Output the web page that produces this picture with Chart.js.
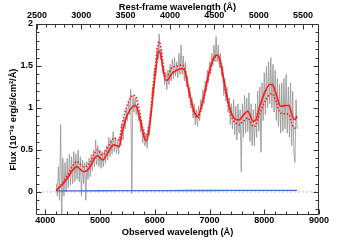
<!DOCTYPE html>
<html><head><meta charset="utf-8">
<script src="https://cdn.jsdelivr.net/npm/chart.js@4"></script>
<style>html,body{margin:0;padding:0;background:#fff}</style>
</head><body>
<canvas id="c" width="355" height="240"></canvas>
<script>
// ---- tick labels ----
const obsTicks = [4000,5000,6000,7000,8000,9000];
const restTicks = [2500,3000,3500,4000,4500,5000,5500];
const fluxTicks = [0,0.5,1,1.5,2];

// ---- observed spectrum (grey) ----
const specWave = [4200,4220,4240,4260,4280,4300,4320,4340,4360,4380,
4400,4420,4440,4460,4480,4500,4520,4540,4560,4580,
4600,4620,4640,4660,4680,4700,4720,4740,4760,4780,
4800,4820,4840,4860,4880,4900,4920,4940,4960,4980,
5000,5020,5040,5060,5080,5100,5120,5140,5160,5180,
5200,5220,5240,5260,5280,5300,5320,5340,5360,5380,
5400,5420,5440,5460,5480,5500,5520,5540,5560,5580,
5600,5620,5640,5660,5680,5700,5720,5740,5760,5780,
5800,5820,5840,5860,5880,5900,5920,5940,5960,5980,
6000,6020,6040,6060,6080,6100,6120,6140,6160,6180,
6200,6220,6240,6260,6280,6300,6320,6340,6360,6380,
6400,6420,6440,6460,6480,6500,6520,6540,6560,6580,
6600,6620,6640,6660,6680,6700,6720,6740,6760,6780,
6800,6820,6840,6860,6880,6900,6920,6940,6960,6980,
7000,7020,7040,7060,7080,7100,7120,7140,7160,7180,
7200,7220,7240,7260,7280,7300,7320,7340,7360,7380,
7400,7420,7440,7460,7480,7500,7520,7540,7560,7580,
7600,7620,7640,7660,7680,7700,7720,7740,7760,7780,
7800,7820,7840,7860,7880,7900,7920,7940,7960,7980,
8000,8020,8040,8060,8080,8100,8120,8140,8160,8180,
8200,8220,8240,8260,8280,8300,8320,8340,8360,8380,
8400,8420,8440,8460,8480,8500,8520,8540,8560,8580,
8600];
const specFlux = [0.10,-0.05,0.30,-0.10,0.80,-0.28,0.40,-0.05,0.35,0.00,
0.40,0.05,0.45,0.08,0.42,0.10,0.48,0.12,0.45,0.15,
0.50,0.12,0.42,-0.05,0.38,0.10,0.35,-0.10,0.36,0.15,
0.40,0.18,0.45,0.25,0.50,0.30,0.62,0.32,0.55,0.30,
0.50,0.28,0.48,0.30,0.50,0.34,0.55,0.38,0.65,0.42,
0.62,0.45,0.72,0.48,0.65,0.46,0.62,0.45,0.66,0.55,
0.80,0.62,0.88,0.75,1.00,0.85,1.08,0.92,1.22,-0.02,
1.15,0.95,1.12,0.92,1.05,0.85,0.95,0.72,0.85,0.58,
0.75,0.55,0.70,0.52,0.78,0.68,0.95,0.90,1.25,1.15,
1.48,1.40,1.72,1.58,1.88,1.58,1.70,1.42,1.50,1.28,
1.42,1.22,1.45,1.28,1.52,1.32,1.58,1.35,1.60,1.38,
1.55,1.36,1.65,1.40,1.75,1.40,1.62,1.32,1.55,1.25,
1.38,1.12,1.25,1.00,1.12,0.88,1.05,0.80,0.98,0.78,
1.02,0.85,1.10,0.98,1.22,1.05,1.32,1.20,1.45,1.30,
1.55,1.40,1.65,1.50,1.75,1.55,1.85,1.55,1.75,1.48,
1.65,1.38,1.50,1.15,1.35,1.08,1.25,0.95,1.12,0.80,
1.05,0.75,1.10,0.68,1.02,0.62,1.05,0.70,0.98,0.24,
1.05,0.65,1.15,0.70,1.12,0.72,1.18,0.60,1.05,0.55,
0.98,0.55,1.05,0.65,1.20,0.72,1.25,0.47,1.30,0.85,
1.42,0.92,1.50,1.00,1.55,1.05,1.60,1.00,1.52,0.95,
1.45,0.85,1.35,0.78,1.28,0.70,1.30,0.72,1.35,0.75,
1.40,0.70,1.25,0.65,1.30,0.55,1.20,0.50,0.35,1.10,
0.75];

// ---- model fits (red) ----
const modelWave = [4200,4300,4400,4500,4575,4700,4800,4900,4950,5050,
5100,5200,5250,5350,5400,5500,5600,5650,5700,5800,
5850,5900,6000,6080,6200,6250,6300,6400,6500,6550,
6600,6700,6780,6900,7000,7100,7150,7200,7300,7400,
7500,7550,7600,7700,7800,7850,7900,8000,8100,8150,
8200,8300,8400,8450,8500,8550,8600];
const modelFlux = [0.02,0.08,0.16,0.26,0.30,0.24,0.28,0.40,0.43,0.38,
0.42,0.53,0.56,0.54,0.70,0.92,1.02,1.03,0.95,0.66,
0.61,0.75,1.35,1.68,1.33,1.34,1.40,1.45,1.47,1.44,
1.28,1.00,0.90,1.15,1.45,1.62,1.63,1.55,1.20,0.94,
0.86,0.86,0.90,0.96,0.84,0.86,0.98,1.17,1.28,1.28,
1.20,1.02,1.03,1.03,0.93,0.86,0.90];
const altFlux = [0.02,0.09,0.19,0.31,0.36,0.30,0.33,0.46,0.50,0.44,
0.48,0.60,0.64,0.62,0.80,1.04,1.15,1.14,1.02,0.71,
0.66,0.82,1.45,1.79,1.38,1.40,1.47,1.50,1.51,1.47,
1.28,0.97,0.88,1.12,1.42,1.60,1.61,1.52,1.16,0.90,
0.81,0.80,0.83,0.88,0.78,0.80,0.90,1.06,1.16,1.17,
1.10,0.94,0.93,0.92,0.82,0.76,0.78];

// ---- error spectrum (blue) ----
const errWave = [4200,4600,5000,5400,5800,6200,6600,7000,7400,7800,8200,8600];
const errFlux = [0.012,0.013,0.014,0.015,0.016,0.016,0.017,0.017,0.018,0.018,0.018,0.018];

// ---- zero reference ----
const zeroWave = [3800,9100];
const zeroFlux = [0,0];

const pts = (xs, ys) => xs.map((x,i)=>({x, y: ys[i]}));
const FONT = '"Liberation Sans", Arial, Helvetica, sans-serif';
const plain = v => String(v);

const frame = {
  id: 'frame',
  afterDraw(chart) {
    const {ctx, chartArea: a, scales} = chart;
    const L = Math.round(a.left) + 0.5, R = Math.round(a.right) - 0.5;
    const T = Math.round(a.top) + 0.5, B = Math.round(a.bottom) - 0.5;
    ctx.save();
    ctx.strokeStyle = '#333';
    ctx.lineWidth = 1;
    ctx.beginPath();
    ctx.rect(L, T, R - L, B - T);
    ctx.stroke();
    const hTicks = (scale, majors, sub, y0, dir) => {
      const step = majors[1] - majors[0];
      for (let v = majors[0] - step; v <= majors[majors.length-1] + step; v += step / sub) {
        if (v < scale.min || v > scale.max) continue;
        const isMaj = Math.abs((v - majors[0]) / step - Math.round((v - majors[0]) / step)) < 1e-6;
        const px = Math.round(scale.getPixelForValue(v)) + 0.5;
        ctx.beginPath(); ctx.moveTo(px, y0); ctx.lineTo(px, y0 + dir * (isMaj ? 5 : 3)); ctx.stroke();
      }
    };
    const vTicks = (scale, majors, sub) => {
      const step = majors[1] - majors[0];
      for (let v = majors[0] - step; v <= majors[majors.length-1] + step; v += step / sub) {
        if (v < scale.min - 1e-9 || v > scale.max + 1e-9) continue;
        const isMaj = Math.abs((v - majors[0]) / step - Math.round((v - majors[0]) / step)) < 1e-6;
        const py = Math.round(scale.getPixelForValue(v)) + 0.5;
        const len = isMaj ? 5 : 3;
        ctx.beginPath(); ctx.moveTo(L, py); ctx.lineTo(L + len, py); ctx.stroke();
        ctx.beginPath(); ctx.moveTo(R, py); ctx.lineTo(R - len, py); ctx.stroke();
      }
    };
    hTicks(scales.x, obsTicks, 5, B, -1);
    hTicks(scales.x2, restTicks, 5, T, 1);
    vTicks(scales.y, fluxTicks, 5);
    ctx.restore();
  }
};

new Chart(document.getElementById('c'), {
  type: 'line',
  data: {
    datasets: [
      { data: pts(modelWave, modelFlux), borderColor: '#ff1a1a', borderWidth: 1.6,
        pointRadius: 0, cubicInterpolationMode: 'monotone', order: 1 },
      { data: pts(modelWave, altFlux), borderColor: '#ff1a1a', borderWidth: 1.6,
        borderDash: [1.5, 1.8], pointRadius: 0, cubicInterpolationMode: 'monotone', order: 2 },
      { data: pts(errWave, errFlux), borderColor: '#3f6fdc', borderWidth: 1.3,
        pointRadius: 0, order: 3 },
      { data: pts(zeroWave, zeroFlux), borderColor: '#bdbdbd', borderWidth: 1,
        borderDash: [2, 2], pointRadius: 0, order: 5 },
      { data: pts(specWave, specFlux), borderColor: 'rgba(150,150,150,0.85)', borderWidth: 1,
        pointRadius: 0, tension: 0, order: 4 }
    ]
  },
  options: {
    responsive: false,
    animation: false,
    layout: { padding: { left: 0, right: 36, top: 0, bottom: 0 } },
    plugins: { legend: { display: false }, tooltip: { enabled: false } },
    scales: {
      x: {
        type: 'linear', position: 'bottom', min: 3830, max: 9000,
        afterBuildTicks: s => { s.ticks = obsTicks.map(v => ({value: v})); },
        afterFit: s => { s.height = 25; },
        grid: { display: false, drawTicks: false }, border: { display: false },
        ticks: { padding: 0, maxRotation: 0, color: '#000', callback: plain,
          font: { family: FONT, size: 9, weight: 'bold' } },
        title: { display: true, text: 'Observed wavelength (Å)', color: '#000',
          padding: { top: 0, bottom: 2.4 }, font: { family: FONT, size: 9.3, weight: 'bold' } }
      },
      x2: {
        type: 'linear', position: 'top', min: 2490, max: 5680,
        afterBuildTicks: s => { s.ticks = restTicks.map(v => ({value: v})); },
        afterFit: s => { s.height = 24; },
        grid: { display: false, drawTicks: false }, border: { display: false },
        ticks: { padding: 3, maxRotation: 0, color: '#000', callback: plain,
          font: { family: FONT, size: 9, weight: 'bold' } },
        title: { display: true, text: 'Rest-frame wavelength (Å)', color: '#000',
          padding: { top: 1.4, bottom: 0 }, font: { family: FONT, size: 9.3, weight: 'bold' } }
      },
      y: {
        type: 'linear', position: 'left', min: -0.275, max: 2,
        afterBuildTicks: s => { s.ticks = fluxTicks.map(v => ({value: v})); },
        afterFit: s => { s.width = 36; },
        grid: { display: false, drawTicks: false }, border: { display: false },
        ticks: { padding: 3, color: '#000', callback: plain,
          font: { family: FONT, size: 9, weight: 'bold' } },
        title: { display: true, text: 'Flux (10⁻¹⁸ erg/s/cm²/Å)', color: '#000',
          padding: { top: 8, bottom: 0 }, font: { family: FONT, size: 9.3, weight: 'bold' } }
      }
    }
  },
  plugins: [frame]
});
</script>
</body></html>
